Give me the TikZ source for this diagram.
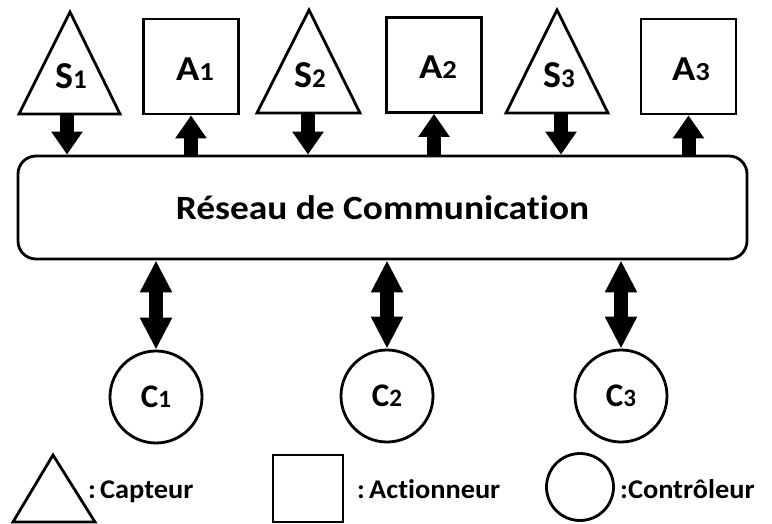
\documentclass[tikz,border=0pt]{standalone}
\usepackage{fontspec}
\setmainfont{Carlito}[Ligatures=NoCommon]
\usepackage{graphicx}
\usetikzlibrary{arrows.meta}
\newcommand\mysize[1]{\fontsize{#1}{#1}\selectfont}
\newcommand\hstretch[2]{\scalebox{#1}[1]{#2}}
\begin{document}
\begin{tikzpicture}[x=1pt,y=-1pt,
  shp/.style={draw, line width=2.8pt, fill=white, line join=miter},
  lbl/.style={font=\bfseries, inner sep=0pt},
  oneway/.style={line width=14pt, -{Triangle[width=30pt,length=23pt]}},
  twoway/.style={line width=14pt, {Triangle[width=30pt,length=32pt]}-{Triangle[width=30pt,length=32pt]}},
  boxnode/.style={shp, minimum size=95pt, inner sep=0pt},
  ctl/.style={shp, circle, minimum size=92pt, inner sep=0pt, font=\bfseries}
]
\useasboundingbox (0,0) rectangle (772,524);

% network
\node[shp, rounded corners=18pt, minimum width=729pt, minimum height=103pt, inner sep=0pt, font=\bfseries]
  (net) at (382.5,207.5) {\hstretch{1.1}{\mysize{34}Réseau de Communication}};

% sensors (triangles)
\draw[shp] (70,12) -- (120,114) -- (19,114) -- cycle;
\draw[shp] (309,10) -- (360,113) -- (257,113) -- cycle;
\draw[shp] (557,10) -- (608,113) -- (506,113) -- cycle;
\node[lbl] (S1) at (71,76) {\mysize{38}S\mysize{27}1};
\node[lbl] (S2) at (310,75) {\mysize{38}S\mysize{27}2};
\node[lbl] (S3) at (559,75) {\mysize{38}S\mysize{27}3};
\coordinate (S1b) at (67,114);
\coordinate (S2b) at (308,113);
\coordinate (S3b) at (561,113);

% actuators (boxes)
\node[boxnode] (A1box) at (191,66.5) {};
\node[boxnode] (A2box) at (434,65) {};
\node[boxnode] (A3box) at (688.5,66.5) {};
\node[lbl] (A1) at (195,69) {\hstretch{1.1}{\mysize{35}A\mysize{26}1}};
\node[lbl] (A2) at (438,67) {\hstretch{1.1}{\mysize{35}A\mysize{26}2}};
\node[lbl] (A3) at (691,69) {\hstretch{1.1}{\mysize{35}A\mysize{26}3}};

% controllers
\node[ctl] (C1) at (156,397) {\mysize{33}C\mysize{25}1};
\node[ctl] (C2) at (387,396) {\mysize{33}C\mysize{25}2};
\node[ctl] (C3) at (621,396) {\mysize{33}C\mysize{25}3};

% connectors
\draw[oneway] (S1b) -- (S1b |- net.north);
\draw[oneway] (S2b) -- (S2b |- net.north);
\draw[oneway] (S3b) -- (S3b |- net.north);
\draw[oneway] (A1box.south |- net.north) -- (A1box.south);
\draw[oneway] (A2box.south |- net.north) -- (A2box.south);
\draw[oneway] (A3box.south |- net.north) -- (A3box.south);
\draw[twoway] (C1.north |- net.south) -- (C1.north);
\draw[twoway] (C2.north |- net.south) -- (C2.north);
\draw[twoway] (C3.north |- net.south) -- (C3.north);

% legend
\draw[shp] (53,455) -- (95,522) -- (13,522) -- cycle;
\node[shp, minimum width=70pt, minimum height=67pt, inner sep=0pt] (Lact) at (308,488.5) {};
\node[shp, circle, minimum size=67pt, inner sep=0pt] (Lctl) at (580,487) {};
\node[lbl, anchor=base west] (Lcap) at (88,498) {\hstretch{1.05}{\mysize{27}:\hspace{4pt}Capteur}};
\node[lbl, anchor=base west] (Lactt) at (357,498) {\hstretch{1.05}{\mysize{27}:\hspace{4pt}Actionneur}};
\node[lbl, anchor=base west] (Lctlt) at (620,498) {\hstretch{1.05}{\mysize{27}:Contrôleur}};
\end{tikzpicture}
\end{document}
